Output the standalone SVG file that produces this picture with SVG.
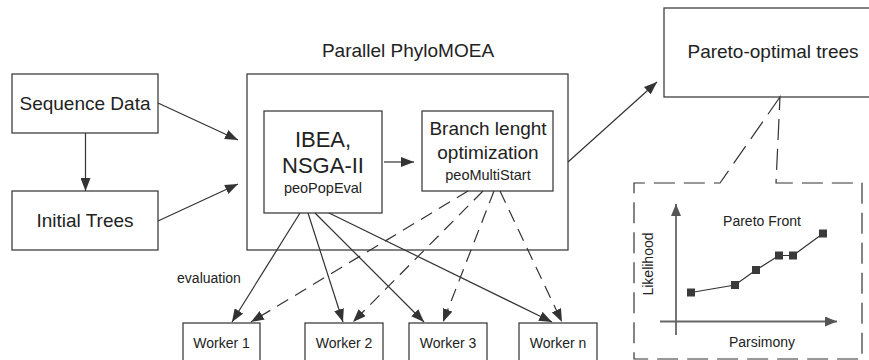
<svg xmlns="http://www.w3.org/2000/svg" width="869" height="360" viewBox="0 0 869 360">
<style>
.box{fill:#fff;stroke:#404040;stroke-width:1.3}
.t{font-family:"Liberation Sans",Arial,sans-serif;fill:#222;text-anchor:middle}
.ln{stroke:#333;stroke-width:1.2;fill:none}
.dash{stroke-dasharray:13,8}
.ldash{stroke-dasharray:21,9}
.ax{stroke:#666;stroke-width:1.8;fill:none}
.pt{fill:#3a3a3a}
</style>
<defs>
<marker id="ah" markerUnits="userSpaceOnUse" markerWidth="13" markerHeight="10" refX="13" refY="5" orient="auto">
<path d="M0,0 L13,5 L0,10 z" fill="#333"/>
</marker>
<marker id="axh" markerUnits="userSpaceOnUse" markerWidth="12" markerHeight="10" refX="12" refY="5" orient="auto">
<path d="M0,0 L12,5 L0,10 z" fill="#555"/>
</marker>
</defs>
<rect width="869" height="360" fill="#fff"/>

<text class="t" x="408" y="57" font-size="19">Parallel PhyloMOEA</text>

<g id="main"><rect class="box" x="247" y="74" width="321" height="176"/></g>

<g id="seq"><rect class="box" x="12" y="74" width="146" height="59"/>
<text class="t" x="85" y="110" font-size="19">Sequence Data</text></g>

<g id="init"><rect class="box" x="12" y="191" width="146" height="59"/>
<text class="t" x="85" y="227" font-size="19">Initial Trees</text></g>

<g id="ibea"><rect class="box" x="264" y="111" width="118" height="102"/>
<text class="t" x="323" y="147" font-size="22">IBEA,</text>
<text class="t" x="323" y="173" font-size="22">NSGA-II</text>
<text class="t" x="323" y="193" font-size="14.5">peoPopEval</text></g>

<g id="branch"><rect class="box" x="422" y="111" width="131" height="80"/>
<text class="t" x="488" y="135" font-size="19">Branch lenght</text>
<text class="t" x="488" y="159" font-size="19">optimization</text>
<text class="t" x="488" y="180" font-size="14.5">peoMultiStart</text></g>

<g id="pareto"><rect class="box" x="664" y="8" width="220" height="89"/>
<text class="t" x="773" y="58" font-size="19">Pareto-optimal trees</text></g>

<g id="w1"><rect class="box" x="183" y="323" width="77" height="50"/>
<text class="t" x="221.5" y="348" font-size="14">Worker 1</text></g>
<g id="w2"><rect class="box" x="305" y="323" width="78" height="50"/>
<text class="t" x="344" y="348" font-size="14">Worker 2</text></g>
<g id="w3"><rect class="box" x="409" y="323" width="78" height="50"/>
<text class="t" x="448" y="348" font-size="14">Worker 3</text></g>
<g id="wn"><rect class="box" x="519" y="323" width="78" height="50"/>
<text class="t" x="558" y="348" font-size="14">Worker n</text></g>

<text class="t" x="209" y="283" font-size="14">evaluation</text>

<g id="connectors">
<line class="ln" x1="85.5" y1="133" x2="85.5" y2="191" marker-end="url(#ah)"/>
<line class="ln" x1="158" y1="103" x2="238" y2="140" marker-end="url(#ah)"/>
<line class="ln" x1="158" y1="221" x2="238" y2="184" marker-end="url(#ah)"/>
<line class="ln" x1="384" y1="162" x2="414" y2="162" marker-end="url(#ah)" stroke-width="1.6"/>
<line class="ln" x1="568" y1="162" x2="657" y2="82" marker-end="url(#ah)"/>
<line class="ln" x1="300" y1="213" x2="232" y2="322" marker-end="url(#ah)"/>
<line class="ln" x1="308" y1="213" x2="343" y2="322" marker-end="url(#ah)"/>
<line class="ln" x1="315" y1="213" x2="424" y2="322" marker-end="url(#ah)"/>
<line class="ln" x1="329" y1="213" x2="552" y2="322" marker-end="url(#ah)"/>
<line class="ln dash" x1="468" y1="191" x2="251" y2="322" marker-end="url(#ah)"/>
<line class="ln dash" x1="483" y1="191" x2="353" y2="322" marker-end="url(#ah)"/>
<line class="ln dash" x1="494" y1="191" x2="443" y2="322" marker-end="url(#ah)"/>
<line class="ln dash" x1="500" y1="191" x2="562" y2="322" marker-end="url(#ah)"/>
<path class="ln ldash" d="M780,97 L720,183 L634,183 L634,359 L862,359 L862,183 L776,183 Z"/>
</g>

<g id="chart">
<line class="ax" x1="676" y1="335" x2="676" y2="204" marker-end="url(#axh)"/>
<line class="ax" x1="660" y1="321.5" x2="837" y2="321.5" marker-end="url(#axh)"/>
<polyline class="ln" points="691,292.5 735,285 756,270 779,255.5 793,255.5 823,233.5"/>
<rect class="pt" x="687" y="288.5" width="8" height="8"/>
<rect class="pt" x="731" y="281" width="8" height="8"/>
<rect class="pt" x="752" y="266" width="8" height="8"/>
<rect class="pt" x="775" y="251.5" width="8" height="8"/>
<rect class="pt" x="789" y="251.5" width="8" height="8"/>
<rect class="pt" x="819" y="229.5" width="8" height="8"/>
<text class="t" x="762" y="226" font-size="14">Pareto Front</text>
<text class="t" x="762" y="347" font-size="14">Parsimony</text>
<text class="t" transform="translate(653,264) rotate(-90)" font-size="14">Likelihood</text>
</g>
</svg>
